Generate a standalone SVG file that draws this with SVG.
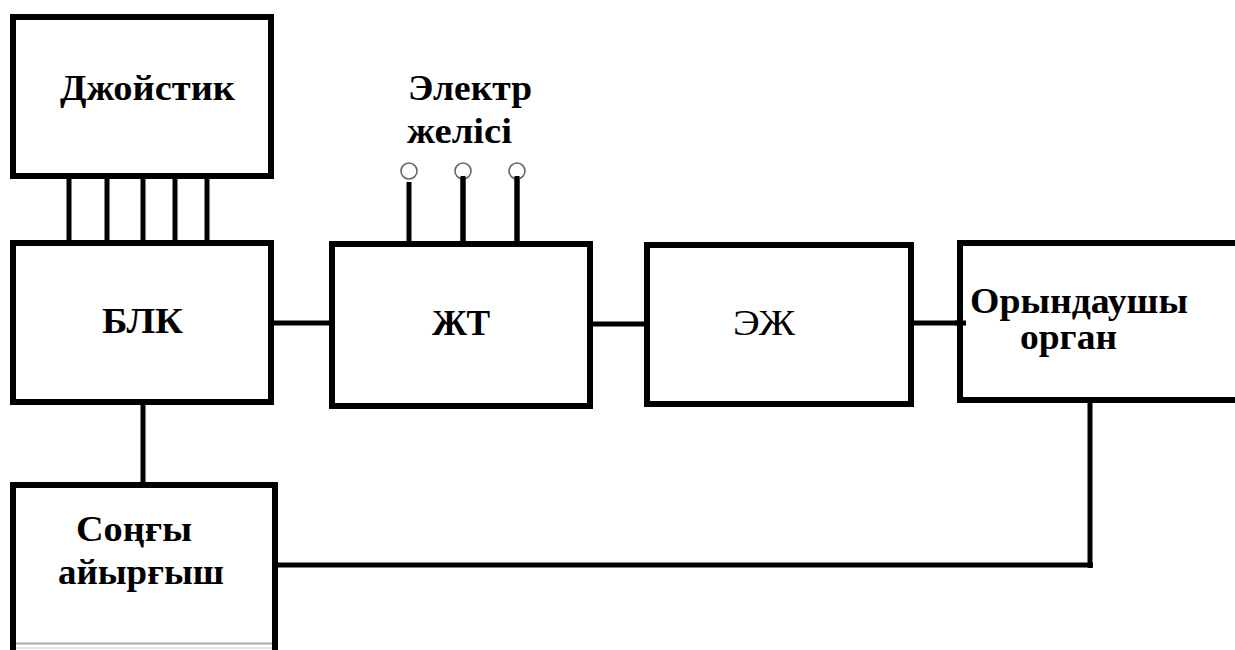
<svg xmlns="http://www.w3.org/2000/svg" width="1235" height="650" viewBox="0 0 1235 650">
<style>
.box{fill:#fff;stroke:#000;stroke-width:6}
.ln{stroke:#000;stroke-width:5;fill:none}
.t{font-family:"Liberation Serif","Times New Roman",serif;font-size:35px;font-weight:bold;fill:#000}
.r{font-weight:normal}
.term{fill:#fff;stroke:#666;stroke-width:1.6}
</style>
<rect width="1235" height="650" fill="#fff"/>
<g id="connectors">
<line class="ln" x1="69" y1="176" x2="69" y2="243"/>
<line class="ln" x1="107" y1="176" x2="107" y2="243"/>
<line class="ln" x1="143" y1="173" x2="143" y2="247"/>
<line class="ln" x1="175" y1="176" x2="175" y2="243"/>
<line class="ln" x1="207" y1="176" x2="207" y2="243"/>
<line class="ln" x1="274" y1="323" x2="333" y2="323"/>
<line class="ln" x1="593" y1="324" x2="646" y2="324"/>
<line class="ln" x1="913" y1="323" x2="962" y2="323"/>
<line class="ln" x1="143" y1="404" x2="143" y2="486"/>
<line class="ln" x1="1090" y1="402" x2="1090" y2="568"/>
<line class="ln" x1="277" y1="565" x2="1093" y2="565"/>
<line class="ln" x1="409" y1="182" x2="409" y2="242"/>
<line class="ln" x1="463" y1="171" x2="463" y2="247"/>
<line class="ln" x1="517" y1="171" x2="517" y2="243"/>
</g>
<g id="joystick">
<rect class="box" x="13" y="17" width="258" height="159"/>
<text class="t" x="60" y="100" textLength="175" lengthAdjust="spacingAndGlyphs">Джойстик</text>
</g>
<g id="blk">
<rect class="box" x="13" y="243" width="258" height="159"/>
<text class="t" x="102" y="333" textLength="81" lengthAdjust="spacingAndGlyphs">БЛК</text>
</g>
<g id="power">
<circle class="term" cx="409" cy="171" r="8"/>
<circle class="term" cx="463" cy="171" r="8"/>
<circle class="term" cx="517" cy="171" r="8"/>
<line class="ln" x1="463" y1="176" x2="463" y2="247"/>
<line class="ln" x1="517" y1="176" x2="517" y2="243"/>
<text class="t" x="408" y="100" textLength="124" lengthAdjust="spacingAndGlyphs">Электр</text>
<text class="t" x="407" y="143" textLength="105" lengthAdjust="spacingAndGlyphs">желісі</text>
</g>
<g id="jt">
<rect class="box" x="332" y="244" width="258" height="162"/>
<text class="t" x="432" y="335" textLength="58" lengthAdjust="spacingAndGlyphs">ЖТ</text>
</g>
<g id="ej">
<rect class="box" x="647" y="245" width="264" height="159"/>
<text class="t r" x="733" y="335" textLength="62" lengthAdjust="spacingAndGlyphs">ЭЖ</text>
</g>
<g id="organ">
<rect class="box" x="960" y="243" width="290" height="157"/>
<line class="ln" x1="955" y1="323" x2="966" y2="323"/>
<text class="t" x="970" y="313" textLength="218" lengthAdjust="spacingAndGlyphs">Орындаушы</text>
<text class="t" x="1020" y="349" textLength="97" lengthAdjust="spacingAndGlyphs">орган</text>
</g>
<g id="sensor">
<path d="M13 655 V485 H275 V655" fill="#fff" stroke="#000" stroke-width="6"/>
<line x1="16" y1="643.5" x2="272" y2="643.5" stroke="#aaa" stroke-width="2"/>
<line x1="16" y1="648" x2="272" y2="648" stroke="#ccc" stroke-width="1"/>
<text class="t" x="76" y="541" textLength="116" lengthAdjust="spacingAndGlyphs">Соңғы</text>
<text class="t" x="58" y="584" textLength="166" lengthAdjust="spacingAndGlyphs">айырғыш</text>
</g>
</svg>
